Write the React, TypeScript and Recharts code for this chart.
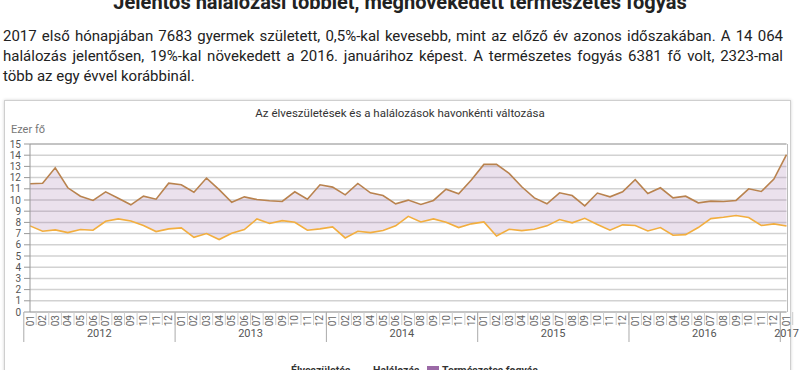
import React from "react";
import {
  ComposedChart,
  Area,
  Line,
  XAxis,
  YAxis,
  CartesianGrid,
  ReferenceLine,
} from "recharts";

const years = ["2012", "2013", "2014", "2015", "2016"];
const months = ["01", "02", "03", "04", "05", "06", "07", "08", "09", "10", "11", "12"];
const lastPeriod = "2017-01";

// ezer fő, 2012-01 ... 2017-01
const births = [
  7.69, 7.21, 7.33, 7.09, 7.36, 7.3, 8.1, 8.31, 8.13, 7.72, 7.18, 7.42,
  7.51, 6.67, 7.0, 6.47, 7.03, 7.36, 8.31, 7.9, 8.16, 8.01, 7.3, 7.42,
  7.6, 6.61, 7.21, 7.09, 7.27, 7.69, 8.54, 8.04, 8.31, 8.01, 7.54, 7.87,
  8.04, 6.79, 7.39, 7.27, 7.39, 7.69, 8.25, 7.96, 8.37, 7.82, 7.3, 7.78,
  7.72, 7.24, 7.54, 6.85, 6.91, 7.54, 8.34, 8.46, 8.61, 8.43, 7.72, 7.87,
  7.68,
];
const deaths = [
  11.45, 11.5, 12.88, 11.09, 10.34, 9.96, 10.73, 10.16, 9.57, 10.34, 10.07, 11.5,
  11.36, 10.7, 11.96, 10.92, 9.8, 10.28, 10.04, 9.93, 9.87, 10.73, 10.07, 11.36,
  11.15, 10.46, 11.48, 10.64, 10.4, 9.66, 9.99, 9.6, 9.96, 10.97, 10.55, 11.78,
  13.18, 13.18, 12.37, 11.18, 10.19, 9.66, 10.64, 10.4, 9.48, 10.62, 10.28, 10.73,
  11.82, 10.58, 11.09, 10.19, 10.34, 9.75, 9.9, 9.87, 9.96, 11.0, 10.76, 11.87,
  14.06,
];
const yTicks = [0, 1, 2, 3, 4, 5, 6, 7, 8, 9, 10, 11, 12, 13, 14, 15];

const periods = [...years.flatMap((y) => months.map((m) => `${y}-${m}`)), lastPeriod];

const data = periods.map((p, i) => ({
  period: p,
  births: births[i],
  deaths: deaths[i],
  decrease: [births[i], deaths[i]],
}));

const W = 800;
const H = 370;
const PLOT_LEFT = 30;
const PLOT_RIGHT = 786.5;
const PLOT_TOP = 144;
const PLOT_BOTTOM = 312;
const BAND = (PLOT_RIGHT - PLOT_LEFT) / periods.length;

const FONT = "Roboto, 'Noto Sans', sans-serif";
const BIRTH_COLOR = "#f2ae3f";
const DEATH_COLOR = "#b9834f";
const FILL_COLOR = "#9b69a6";

function PeriodTick(props: any) {
  const { x, payload } = props;
  const [yr, m] = String(payload.value).split("-");
  const left = x - BAND / 2;
  const right = x + BAND / 2;
  return (
    <g>
      <text
        transform={`translate(${x},${PLOT_BOTTOM + 3}) rotate(-90)`}
        textAnchor="end"
        dominantBaseline="central"
        fontSize={10}
        fill="#666"
        fontFamily={FONT}
      >
        {m}
      </text>
      {m === "01" ? (
        <line x1={left} x2={left} y1={PLOT_BOTTOM} y2={PLOT_BOTTOM + 30} stroke="#aaa" />
      ) : null}
      <line x1={right} x2={right} y1={PLOT_BOTTOM} y2={PLOT_BOTTOM + 13} stroke="#ccc" />
      {m === "06" ? (
        <text x={right} y={PLOT_BOTTOM + 25} textAnchor="middle" fontSize={11} fill="#555" fontFamily={FONT}>
          {yr}
        </text>
      ) : null}
      {yr === "2017" ? (
        <text x={x} y={PLOT_BOTTOM + 25} textAnchor="middle" fontSize={11} fill="#555" fontFamily={FONT}>
          {yr}
        </text>
      ) : null}
    </g>
  );
}

const paraStyle: React.CSSProperties = {
  position: "absolute",
  left: 3,
  width: 780,
  fontFamily: FONT,
  fontSize: 15,
  lineHeight: "20px",
  color: "#222",
  whiteSpace: "nowrap",
  textAlign: "justify",
  textAlignLast: "justify",
};

const legendText: React.CSSProperties = {
  position: "absolute",
  top: 364,
  fontSize: 10.5,
  fontWeight: 700,
  color: "#333",
  lineHeight: "14px",
  whiteSpace: "nowrap",
};

export default function App() {
  return (
    <div
      style={{
        position: "absolute",
        left: 0,
        top: 0,
        width: W,
        height: H,
        overflow: "hidden",
        background: "#fff",
        fontFamily: FONT,
      }}
    >
      <div
        style={{
          position: "absolute",
          left: 0,
          top: -13,
          width: W,
          textAlign: "center",
          fontSize: 20,
          fontWeight: 700,
          color: "#222",
          whiteSpace: "nowrap",
          lineHeight: "30px",
        }}
      >
        Jelentős halálozási többlet, megnövekedett természetes fogyás
      </div>
      <div style={{ ...paraStyle, top: 26, whiteSpace: "normal" }}>
        2017 első hónapjában 7683 gyermek született, 0,5%-kal kevesebb, mint az előző év azonos időszakában. A 14 064
      </div>
      <div style={{ ...paraStyle, top: 46, whiteSpace: "normal" }}>
        halálozás jelentősen, 19%-kal növekedett a 2016. januárihoz képest. A természetes fogyás 6381 fő volt, 2323-mal
      </div>
      <div style={{ ...paraStyle, top: 66, textAlignLast: "left" }}>több az egy évvel korábbinál.</div>

      <div
        style={{
          position: "absolute",
          left: 4,
          top: 100,
          width: 785,
          height: 320,
          border: "1px solid #cfcfcf",
          boxShadow: "0 0 3px rgba(0,0,0,0.18)",
        }}
      />
      <div
        style={{
          position: "absolute",
          left: 0,
          top: 105,
          width: W,
          textAlign: "center",
          fontSize: 11.5,
          color: "#333",
          lineHeight: "16px",
        }}
      >
        Az élveszületések és a halálozások havonkénti változása
      </div>
      <div style={{ position: "absolute", left: 11, top: 123, fontSize: 11, color: "#777", lineHeight: "14px" }}>
        Ezer fő
      </div>

      <div style={{ position: "absolute", left: 0, top: 0 }}>
        <ComposedChart
          width={W}
          height={H}
          data={data}
          margin={{ top: PLOT_TOP, right: W - PLOT_RIGHT, bottom: 0, left: 0 }}
        >
          <CartesianGrid vertical={false} stroke="#d2d2d2" strokeWidth={1.5} />
          <XAxis
            dataKey="period"
            interval={0}
            height={H - PLOT_BOTTOM}
            tickLine={false}
            axisLine={{ stroke: "#aaa" }}
            tick={<PeriodTick />}
          />
          <YAxis
            width={PLOT_LEFT}
            domain={[0, 15]}
            ticks={yTicks}
            interval={0}
            tickSize={6}
            tickMargin={3}
            axisLine={{ stroke: "#999" }}
            tickLine={{ stroke: "#999" }}
            tick={{ fontSize: 10, fill: "#555", fontFamily: FONT }}
          />
          <ReferenceLine y={15} stroke="#aaa" />
          <Area
            dataKey="decrease"
            stroke="none"
            fill={FILL_COLOR}
            fillOpacity={0.2}
            isAnimationActive={false}
          />
          <Line
            dataKey="deaths"
            stroke={DEATH_COLOR}
            strokeWidth={1.6}
            dot={false}
            isAnimationActive={false}
          />
          <Line
            dataKey="births"
            stroke={BIRTH_COLOR}
            strokeWidth={1.6}
            dot={false}
            isAnimationActive={false}
          />
        </ComposedChart>
      </div>
      <div
        style={{
          position: "absolute",
          left: PLOT_RIGHT,
          top: PLOT_TOP,
          width: 1,
          height: PLOT_BOTTOM - PLOT_TOP,
          background: "#bbb",
        }}
      />

      <div style={{ position: "absolute", left: 270, top: 372, width: 16, height: 2, background: BIRTH_COLOR }} />
      <div style={{ ...legendText, left: 291 }}>Élveszületés</div>
      <div style={{ position: "absolute", left: 352, top: 372, width: 16, height: 2, background: DEATH_COLOR }} />
      <div style={{ ...legendText, left: 373 }}>Halálozás</div>
      <div style={{ position: "absolute", left: 427, top: 366, width: 12, height: 12, background: FILL_COLOR }} />
      <div style={{ ...legendText, left: 442 }}>Természetes fogyás</div>
    </div>
  );
}
